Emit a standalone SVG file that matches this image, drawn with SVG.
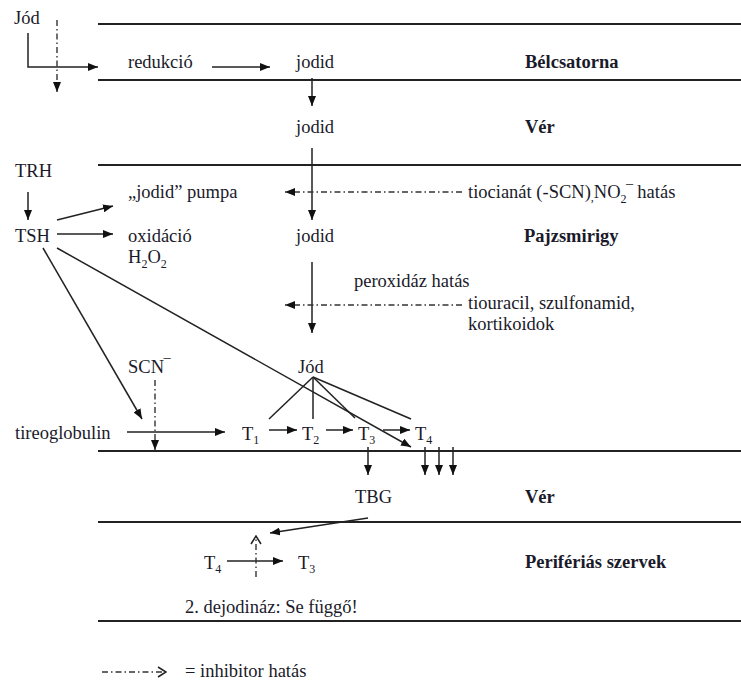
<svg xmlns="http://www.w3.org/2000/svg" width="741" height="681" viewBox="0 0 741 681">
<style>
text{font-family:"Liberation Serif",Tinos,"Times New Roman","DejaVu Serif",serif;font-size:18.5px;fill:#1a1a2a}
.b{font-weight:bold}
.sub{font-size:12px}
.sep{stroke:#222;stroke-width:2;fill:none}
.c{stroke:#222;stroke-width:1.5;fill:none}
.dd{stroke:#333;stroke-width:1.4;fill:none;stroke-dasharray:6 3 1.5 3}
</style>
<defs>
<marker id="ah" viewBox="0 0 10 8" refX="10" refY="4" markerWidth="10" markerHeight="8" markerUnits="userSpaceOnUse" orient="auto"><path d="M0,0 L10,4 L0,8 z" fill="#111"/></marker>
<marker id="oh" viewBox="0 0 10 12" refX="9" refY="6" markerWidth="10" markerHeight="12" markerUnits="userSpaceOnUse" orient="auto"><path d="M1,1 L9,6 L1,11" fill="none" stroke="#222" stroke-width="1.5"/></marker>
</defs>
<rect width="741" height="681" fill="#fff"/>
<g id="separators">
<line class="sep" x1="98" y1="24" x2="741" y2="24"/>
<line class="sep" x1="98" y1="80" x2="741" y2="80"/>
<line class="sep" x1="98" y1="165" x2="741" y2="165"/>
<line class="sep" x1="98" y1="451" x2="741" y2="451"/>
<line class="sep" x1="98" y1="522" x2="741" y2="522"/>
<line class="sep" x1="98" y1="621" x2="741" y2="621"/>
</g>
<g id="connectors">
<polyline class="c" points="28,33 28,67 98,67" marker-end="url(#ah)"/>
<line class="dd" x1="57" y1="20" x2="57" y2="92" marker-end="url(#ah)"/>
<line class="c" x1="212" y1="67" x2="270" y2="67" marker-end="url(#ah)"/>
<line class="c" x1="312" y1="78" x2="312" y2="106" marker-end="url(#ah)"/>
<line class="c" x1="312" y1="148" x2="312" y2="220" marker-end="url(#ah)"/>
<line class="dd" x1="462" y1="192" x2="285" y2="192" marker-end="url(#ah)"/>
<line class="c" x1="312" y1="262" x2="312" y2="333" marker-end="url(#ah)"/>
<line class="dd" x1="462" y1="305" x2="285" y2="305" marker-end="url(#ah)"/>
<line class="c" x1="28" y1="192" x2="28" y2="220" marker-end="url(#ah)"/>
<line class="c" x1="57" y1="220" x2="113" y2="206" marker-end="url(#ah)"/>
<line class="c" x1="57" y1="234" x2="113" y2="234" marker-end="url(#ah)"/>
<line class="c" x1="57" y1="248" x2="411" y2="447" marker-end="url(#ah)"/>
<line class="c" x1="43" y1="248" x2="142" y2="419" marker-end="url(#ah)"/>
<line class="dd" x1="155" y1="380" x2="155" y2="450" marker-end="url(#ah)"/>
<line class="c" x1="127" y1="432" x2="225" y2="432" marker-end="url(#ah)"/>
<line class="c" x1="269" y1="430" x2="297" y2="430" marker-end="url(#ah)"/>
<line class="c" x1="326" y1="430" x2="353" y2="430" marker-end="url(#ah)"/>
<line class="c" x1="383" y1="430" x2="410" y2="430" marker-end="url(#ah)"/>
<line class="c" x1="313" y1="377" x2="269" y2="419"/>
<line class="c" x1="313" y1="377" x2="313" y2="419"/>
<line class="c" x1="313" y1="377" x2="355" y2="418"/>
<line class="c" x1="313" y1="377" x2="411" y2="419"/>
<line class="c" x1="368" y1="447" x2="368" y2="475" marker-end="url(#ah)"/>
<line class="c" x1="425" y1="447" x2="425" y2="475" marker-end="url(#ah)"/>
<line class="c" x1="439" y1="447" x2="439" y2="475" marker-end="url(#ah)"/>
<line class="c" x1="453" y1="447" x2="453" y2="475" marker-end="url(#ah)"/>
<line class="c" x1="368" y1="518" x2="270" y2="533" marker-end="url(#ah)"/>
<line class="c" x1="227" y1="561" x2="283" y2="561" marker-end="url(#ah)"/>
<line class="dd" x1="256" y1="577" x2="256" y2="536" marker-end="url(#oh)"/>
<line class="dd" x1="102" y1="672" x2="166" y2="672" marker-end="url(#oh)"/>
</g>
<g id="n-jod1"><text x="14" y="24">Jód</text></g>
<g id="n-redukcio"><text x="128" y="68">redukció</text></g>
<g id="n-jodid1"><text x="296" y="68">jodid</text></g>
<g id="n-belcsatorna"><text class="b" x="525" y="68">Bélcsatorna</text></g>
<g id="n-jodid2"><text x="296" y="133">jodid</text></g>
<g id="n-ver1"><text class="b" x="525" y="133">Vér</text></g>
<g id="n-trh"><text x="15" y="177">TRH</text></g>
<g id="n-pumpa"><text x="128" y="198">„jodid” pumpa</text></g>
<g id="n-tiocianat"><text x="468" y="198">tiocianát (-SCN)<tspan class="sub" dy="3">,</tspan><tspan dy="-3">NO</tspan><tspan class="sub" dy="5">2</tspan><tspan dy="-4">‾</tspan><tspan dy="-1"> hatás</tspan></text></g>
<g id="n-tsh"><text x="15" y="242">TSH</text></g>
<g id="n-oxidacio"><text x="128" y="242">oxidáció</text><text x="128" y="263">H<tspan class="sub" dy="5">2</tspan><tspan dy="-5">O</tspan><tspan class="sub" dy="5">2</tspan></text></g>
<g id="n-jodid3"><text x="296" y="242">jodid</text></g>
<g id="n-pajzsmirigy"><text class="b" x="524" y="242">Pajzsmirigy</text></g>
<g id="n-peroxidaz"><text x="354" y="287">peroxidáz hatás</text></g>
<g id="n-tiouracil"><text x="468" y="309">tiouracil, szulfonamid,</text><text x="468" y="330">kortikoidok</text></g>
<g id="n-scn"><text x="128" y="373">SCN‾</text></g>
<g id="n-jod2"><text x="298" y="373">Jód</text></g>
<g id="n-tireoglobulin"><text x="15" y="439">tireoglobulin</text></g>
<g id="n-t1"><text x="242" y="440">T<tspan class="sub" dy="4">1</tspan></text></g>
<g id="n-t2"><text x="302" y="440">T<tspan class="sub" dy="4">2</tspan></text></g>
<g id="n-t3"><text x="358" y="440">T<tspan class="sub" dy="4">3</tspan></text></g>
<g id="n-t4"><text x="415" y="440">T<tspan class="sub" dy="4">4</tspan></text></g>
<g id="n-tbg"><text x="355" y="503">TBG</text></g>
<g id="n-ver2"><text class="b" x="525" y="503">Vér</text></g>
<g id="n-t4p"><text x="204" y="569">T<tspan class="sub" dy="4">4</tspan></text></g>
<g id="n-t3p"><text x="298" y="569">T<tspan class="sub" dy="4">3</tspan></text></g>
<g id="n-periferias"><text class="b" x="525" y="568">Perifériás szervek</text></g>
<g id="n-dejodinaz"><text x="185" y="613">2. dejodináz: Se függő!</text></g>
<g id="legend"><text x="185" y="677">= inhibitor hatás</text></g>
</svg>
